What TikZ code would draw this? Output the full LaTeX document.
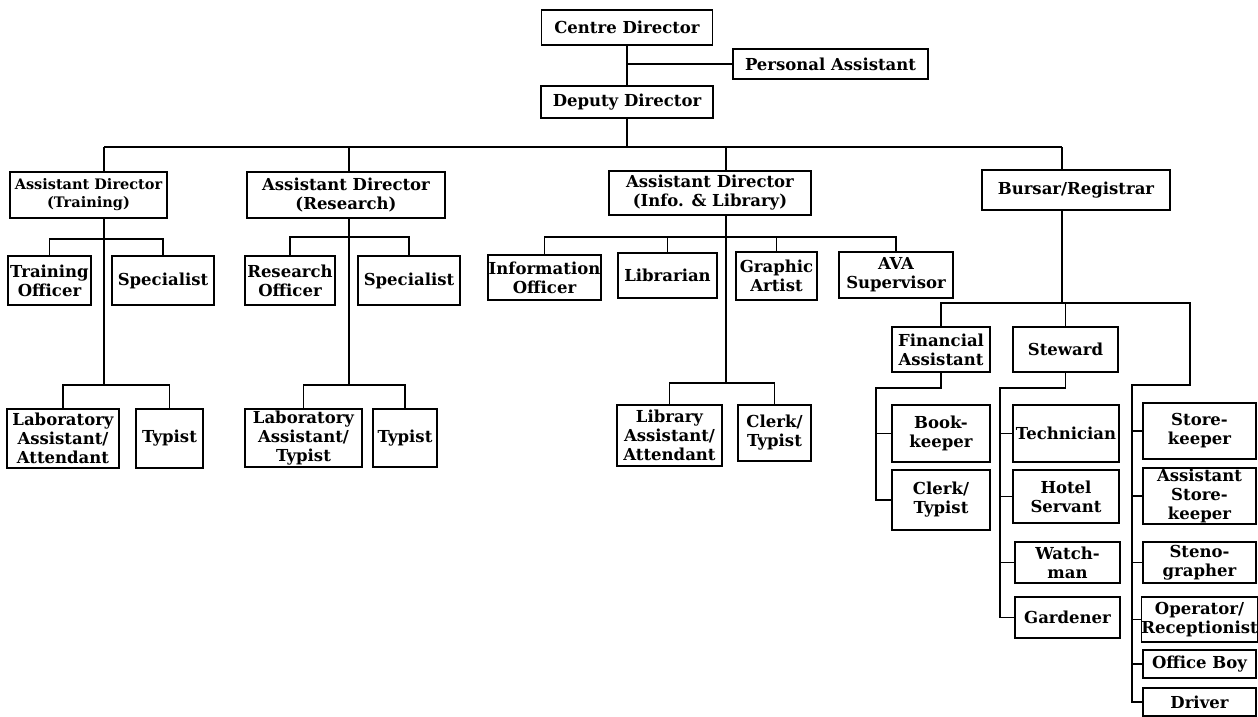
\documentclass[tikz,border=0pt]{standalone}
\usepackage{fontspec}
\setmainfont{DejaVu Serif}
\begin{document}
\begin{tikzpicture}[x=1pt,y=-1pt,line width=1.6pt,
  box/.style={draw,line width=1.6pt,inner sep=0pt,align=center,
    font=\fontsize{16.5}{19}\selectfont\bfseries},
  small/.style={font=\fontsize{14.5}{18}\selectfont\bfseries},
  sz/.style 2 args={minimum width=#1pt,minimum height=#2pt}]
\fill[white] (0,0) rectangle (1258,717);
\clip (0,0) rectangle (1258,717);
% top
\node[box,sz={171}{35}] (cd) at (627,27.5) {Centre Director};
\node[box,sz={195}{30}] (pa) at (830.5,64) {Personal Assistant};
\node[box,sz={172}{32}] (dd) at (627,102) {Deputy Director};
% second level
\node[box,small,sz={157}{46}] (adt) at (88.5,195) {Assistant Director\\(Training)};
\node[box,sz={198}{46}] (adr) at (346,195) {Assistant Director\\(Research)};
\node[box,sz={202}{44}] (adi) at (710,193) {Assistant Director\\(Info. \& Library)};
\node[box,sz={188}{40}] (bur) at (1076,190) {Bursar/Registrar};
% third level
\node[box,sz={83}{49}] (to) at (49.5,280.5) {Training\\Officer};
\node[box,sz={102}{49}] (ts) at (163,280.5) {Specialist};
\node[box,sz={90}{49}] (ro) at (290,280.5) {Research\\Officer};
\node[box,sz={102}{49}] (rs) at (409,280.5) {Specialist};
\node[box,sz={113}{45}] (io) at (544.5,277.5) {Information\\Officer};
\node[box,sz={99}{45}] (lib) at (667.5,275.5) {Librarian};
\node[box,sz={81}{48}] (ga) at (776.5,276) {Graphic\\Artist};
\node[box,sz={114}{46}] (ava) at (896,275) {AVA\\Supervisor};
% fourth level
\node[box,sz={112}{59}] (tla) at (63,438.5) {Laboratory\\Assistant/\\Attendant};
\node[box,sz={67}{59}] (tty) at (169.5,438.5) {Typist};
\node[box,sz={117}{58}] (rla) at (303.5,438) {Laboratory\\Assistant/\\Typist};
\node[box,sz={64}{58}] (rty) at (405,438) {Typist};
\node[box,sz={105}{61}] (ila) at (669.5,435.5) {Library\\Assistant/\\Attendant};
\node[box,sz={73}{56}] (ict) at (774.5,433) {Clerk/\\Typist};
% bursar branch
\node[box,sz={98}{45}] (fa) at (941,349.5) {Financial\\Assistant};
\node[box,sz={105}{45}] (st) at (1065.5,349.5) {Steward};
\node[box,sz={98}{57}] (bk) at (941,433.5) {Book-\\keeper};
\node[box,sz={98}{60}] (fct) at (941,500) {Clerk/\\Typist};
\node[box,sz={106}{57}] (tech) at (1066,433.5) {Technician};
\node[box,sz={106}{53}] (hs) at (1066,496.5) {Hotel\\Servant};
\node[box,sz={105}{41}] (wm) at (1067.5,562.5) {Watch-\\man};
\node[box,sz={105}{41}] (gd) at (1067.5,617.5) {Gardener};
\node[box,sz={113}{56}] (sk) at (1199.5,431) {Store-\\keeper};
\node[box,sz={113}{56}] (ask) at (1199.5,496) {Assistant\\Store-\\keeper};
\node[box,sz={113}{41}] (sg) at (1199.5,562.5) {Steno-\\grapher};
\node[box,sz={113}{45}] (op) at (1199.5,619.5) {Operator/\\Receptionist};
\node[box,sz={113}{28}] (ob) at (1199.5,664) {Office Boy};
\node[box,sz={113}{28}] (dr) at (1199.5,702) {Driver};
% connectors: top
\coordinate (bus0) at (104,147);
\coordinate (bus1) at (1062,147);
\draw (bus0) -- (bus1);
\draw (cd.south) -- (dd.north);
\draw (cd.south |- pa.west) -- (pa.west);
\draw (dd.south) -- (dd.south |- bus0);
% training
\coordinate (tsub) at (104,239);
\coordinate (tlow) at (104,385);
\draw (bus0) -- (bus0 |- adt.north);
\draw (tsub |- adt.south) -- (tlow);
\draw (to.north) |- (tsub) -| (ts.north);
\draw (tla.north) |- (tlow) -| (tty.north);
% research
\coordinate (rtop) at (349,147);
\coordinate (rsub) at (349,237);
\coordinate (rlow) at (349,385);
\draw (rtop) -- (rtop |- adr.north);
\draw (rsub |- adr.south) -- (rlow);
\draw (ro.north) |- (rsub) -| (rs.north);
\draw (rla.north) |- (rlow) -| (rty.north);
% info
\coordinate (itop) at (726,147);
\coordinate (isub) at (726,237);
\coordinate (ilow) at (726,383);
\draw (itop) -- (itop |- adi.north);
\draw (isub |- adi.south) -- (ilow);
\draw (io.north) |- (isub) -| (ava.north);
\draw (lib.north) -- (lib.north |- isub);
\draw (ga.north) -- (ga.north |- isub);
\draw (ila.north) |- (ilow) -| (ict.north);
% bursar
\coordinate (bsub) at (1062,303);
\coordinate (rc0) at (1190,303);
\coordinate (rc1) at (1190,385);
\coordinate (rc2) at (1132,385);
\draw (bus1) -- (bus1 |- bur.north);
\draw (bsub |- bur.south) -- (bsub);
\draw (fa.north) |- (bsub) -- (rc0) -- (rc1) -- (rc2) |- (dr.west);
\draw (st.north) -- (st.north |- bsub);
\foreach \n in {sk,ask,sg,op,ob} \draw (rc2 |- \n.west) -- (\n.west);
% financial
\coordinate (fl) at (876,388);
\draw (fa.south) |- (fl) |- (fct.west);
\draw (fl |- bk.west) -- (bk.west);
% steward
\coordinate (sl) at (1000,388);
\draw (st.south) |- (sl) |- (gd.west);
\foreach \n in {tech,hs,wm} \draw (sl |- \n.west) -- (\n.west);
\end{tikzpicture}
\end{document}
